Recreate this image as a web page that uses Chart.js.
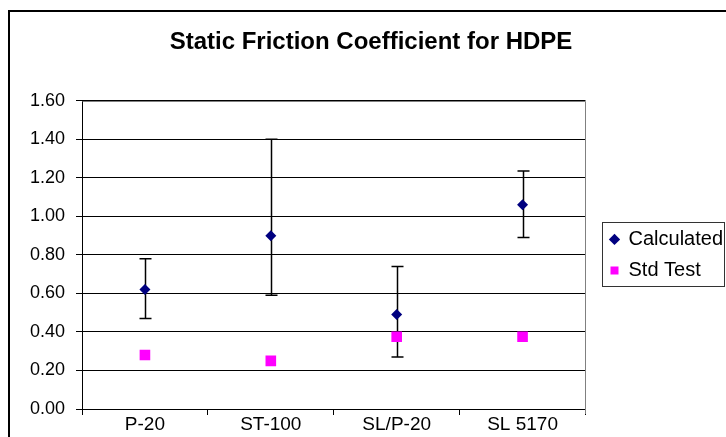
<!DOCTYPE html>
<html>
<head>
<meta charset="utf-8">
<script src="https://cdn.jsdelivr.net/npm/chart.js@4/dist/chart.umd.min.js"></script>
<style>
    html, body { margin: 0; padding: 0; background: #fff; }
    #grafico { display: block; }
</style>
</head>
<body>
<canvas id="grafico" width="726" height="437"></canvas>
<script>
// ========================= DADOS =========================
const categorias = ['P-20', 'ST-100', 'SL/P-20', 'SL 5170'];
const calculado = [0.62, 0.90, 0.49, 1.06];
const calculadoMax = [0.78, 1.40, 0.74, 1.235];
const calculadoMin = [0.47, 0.59, 0.27, 0.89];
const stdTest = [0.28, 0.25, 0.375, 0.375];
const ticksY = [0, 0.2, 0.4, 0.6, 0.8, 1.0, 1.2, 1.4, 1.6];

const FONTE = "'Liberation Sans', Arial, sans-serif";

// ========================= PLUGINS =========================
// barras de erro da série "Calculated"
const barrasErro = {
    id: 'barrasErro',
    beforeDatasetsDraw(chart) {
        const ctx = chart.ctx;
        const x = chart.scales.x;
        const y = chart.scales.y;
        ctx.save();
        ctx.strokeStyle = '#000';
        ctx.lineWidth = 1.5;
        categorias.forEach((c, i) => {
            const px = Math.round(x.getPixelForValue(i)) + 0.5;
            const top = y.getPixelForValue(calculadoMax[i]);
            const bot = y.getPixelForValue(calculadoMin[i]);
            ctx.beginPath();
            ctx.moveTo(px, top);
            ctx.lineTo(px, bot);
            ctx.moveTo(px - 6, top);
            ctx.lineTo(px + 6, top);
            ctx.moveTo(px - 6, bot);
            ctx.lineTo(px + 6, bot);
            ctx.stroke();
        });
        ctx.restore();
    }
};

// desloca a legenda e desenha molduras
const molduras = {
    id: 'molduras',
    afterLayout(chart) {
        chart.legend.left += 14;
        chart.legend.right += 14;
    },
    afterDraw(chart) {
        const ctx = chart.ctx;
        const area = chart.chartArea;
        ctx.save();
        // borda cinza do plot (topo e direita)
        ctx.strokeStyle = '#808080';
        ctx.lineWidth = 1;
        ctx.beginPath();
        ctx.moveTo(Math.round(area.left) + 0.5, Math.round(area.top) + 0.5);
        ctx.lineTo(Math.round(area.right) + 0.5, Math.round(area.top) + 0.5);
        ctx.lineTo(Math.round(area.right) + 0.5, Math.round(area.bottom) + 5);
        ctx.stroke();

        // caixa da legenda
        const hb = chart.legend.legendHitBoxes;
        if (hb && hb.length) {
            const l = Math.round(hb[0].left - 8) + 0.5;
            const t = Math.round(hb[0].top - 7) + 0.5;
            const b = Math.round(hb[hb.length - 1].top + hb[hb.length - 1].height + 6) + 0.5;
            ctx.strokeStyle = '#333';
            ctx.strokeRect(l, t, chart.width - 1.5 - l, b - t);
        }

        // borda externa
        ctx.strokeStyle = '#000';
        ctx.lineWidth = 2;
        ctx.strokeRect(9, 11, chart.width + 20, chart.height + 20);
        ctx.restore();
    }
};

// ========================= GRÁFICO =========================
new Chart(document.getElementById('grafico'), {
    type: 'line',
    data: {
        labels: categorias,
        datasets: [{
            label: 'Calculated',
            data: calculado,
            showLine: false,
            pointStyle: 'rectRot',
            pointRadius: 5.5,
            pointHoverRadius: 5.5,
            backgroundColor: '#000080',
            borderColor: '#000080',
            borderWidth: 0
        }, {
            label: 'Std Test',
            data: stdTest,
            showLine: false,
            pointStyle: 'rect',
            pointRadius: 7.5,
            pointHoverRadius: 7.5,
            backgroundColor: '#FF00FF',
            borderColor: '#FF00FF',
            borderWidth: 0
        }]
    },
    options: {
        responsive: false,
        animation: false,
        events: [],
        layout: {
            padding: { left: 23, right: 7, top: 0, bottom: 0 }
        },
        scales: {
            x: {
                type: 'category',
                offset: true,
                afterFit(scale) { scale.height = 28; },
                border: { display: true, color: '#000', width: 1 },
                grid: {
                    offset: true,
                    drawOnChartArea: false,
                    drawTicks: true,
                    tickLength: 6,
                    color: '#000'
                },
                ticks: {
                    color: '#000',
                    padding: -2,
                    maxRotation: 0,
                    font: { family: FONTE, size: 19 }
                }
            },
            y: {
                min: 0,
                max: 1.6,
                afterFit(scale) { scale.width = 59; },
                afterBuildTicks(scale) {
                    scale.ticks = ticksY.map(v => ({ value: v }));
                },
                border: { display: true, color: '#000', width: 1 },
                grid: {
                    color: '#000',
                    lineWidth: 1,
                    drawTicks: true,
                    tickLength: 6
                },
                ticks: {
                    color: '#000',
                    padding: 11,
                    font: { family: FONTE, size: 18 },
                    callback: function(value) {
                        return Number(value).toFixed(2);
                    }
                }
            }
        },
        plugins: {
            title: {
                display: true,
                text: 'Static Friction Coefficient for HDPE',
                color: '#000',
                font: { family: FONTE, size: 24, weight: 'bold' },
                padding: { top: 28, bottom: 44 }
            },
            legend: {
                display: true,
                position: 'right',
                fullSize: false,
                labels: {
                    usePointStyle: true,
                    boxWidth: 8,
                    boxHeight: 8,
                    padding: 11,
                    color: '#000',
                    font: { family: FONTE, size: 20 }
                }
            },
            tooltip: { enabled: false }
        }
    },
    plugins: [barrasErro, molduras]
});
</script>
</body>
</html>
